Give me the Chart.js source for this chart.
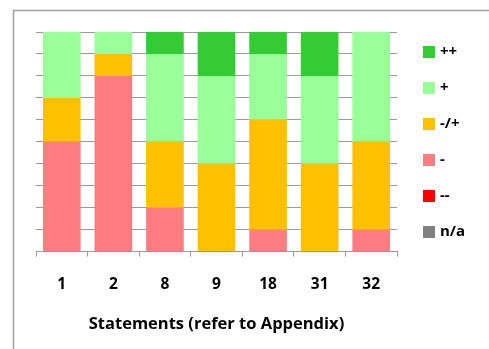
<!DOCTYPE html>
<html>
<head>
<meta charset="utf-8">
<script src="https://cdn.jsdelivr.net/npm/chart.js@4"></script>
<style>
  html, body { margin: 0; padding: 0; background: #fff; }
  #wrap { width: 489px; height: 349px; }
</style>
</head>
<body>
<div id="wrap"><canvas id="chart" width="489" height="349"></canvas></div>
<script>
// Statements on the x axis
const categories = ['1', '2', '8', '9', '18', '31', '32'];

// Share of answers per statement (%), bottom of the stack first
const naValues       = [0, 0, 0, 0, 0, 0, 0];
const veryNegValues  = [0, 0, 0, 0, 0, 0, 0];
const negValues      = [50, 80, 20, 0, 10, 0, 10];
const neutralValues  = [20, 10, 30, 40, 50, 40, 40];
const posValues      = [30, 10, 40, 40, 30, 40, 50];
const veryPosValues  = [0, 0, 10, 20, 10, 20, 0];

const seriesLabels = ['n/a', '--', '-', '-/+', '+', '++'];
const seriesColors = ['#808080', '#ff0000', '#ff7c80', '#ffc000', '#99ff99', '#33cc33'];
const seriesValues = [naValues, veryNegValues, negValues, neutralValues, posValues, veryPosValues];

const FONT = "'Open Sans', sans-serif";
const GRID = '#9a9a9a';

// Outer frame of the chart box
const framePlugin = {
    id: 'frame',
    beforeDraw(chart) {
        const ctx = chart.ctx;
        ctx.save();
        ctx.strokeStyle = '#a0a0a0';
        ctx.lineWidth = 1.5;
        ctx.strokeRect(13.5, 10.5, 600, 500);
        ctx.restore();
    }
};

// Legend on the right, top series first
const legendPlugin = {
    id: 'sideLegend',
    afterDraw(chart) {
        const ctx = chart.ctx;
        const area = chart.chartArea;
        const x = area.right + 26;
        let y = area.top + 20;
        ctx.save();
        ctx.font = 'bold 15px ' + FONT;
        ctx.textBaseline = 'middle';
        const sets = chart.data.datasets.slice().reverse();
        sets.forEach(ds => {
            ctx.fillStyle = ds.backgroundColor;
            ctx.fillRect(x, y - 6, 12, 12);
            ctx.fillStyle = '#000';
            ctx.fillText(ds.label, x + 17, y);
            y += 36;
        });
        ctx.restore();
    }
};

const datasets = seriesLabels.map((label, i) => ({
    label: label,
    data: seriesValues[i],
    backgroundColor: seriesColors[i],
    borderWidth: 0,
    barPercentage: 0.73,
    categoryPercentage: 1.0
}));

new Chart(document.getElementById('chart'), {
    type: 'bar',
    data: { labels: categories, datasets: datasets },
    options: {
        responsive: false,
        animation: false,
        events: [],
        layout: { padding: { left: 36, right: 92, top: 32, bottom: 0 } },
        plugins: {
            legend: { display: false },
            tooltip: { enabled: false }
        },
        scales: {
            x: {
                stacked: true,
                grid: {
                    display: true,
                    drawOnChartArea: false,
                    offset: true,
                    tickLength: 5,
                    color: GRID
                },
                border: { display: true, color: GRID, width: 1 },
                ticks: {
                    color: '#000',
                    padding: 19,
                    font: { family: FONT, size: 15.5, weight: 'bold' }
                },
                title: {
                    display: true,
                    text: 'Statements (refer to Appendix)',
                    color: '#000',
                    padding: { top: 1, bottom: 15 },
                    font: { family: FONT, size: 16.5, weight: 'bold' }
                }
            },
            y: {
                stacked: true,
                min: 0,
                max: 100,
                ticks: { display: false, stepSize: 10 },
                grid: { color: GRID, drawTicks: false, lineWidth: 1 },
                border: { display: false }
            }
        }
    },
    plugins: [framePlugin, legendPlugin]
});
</script>
</body>
</html>
